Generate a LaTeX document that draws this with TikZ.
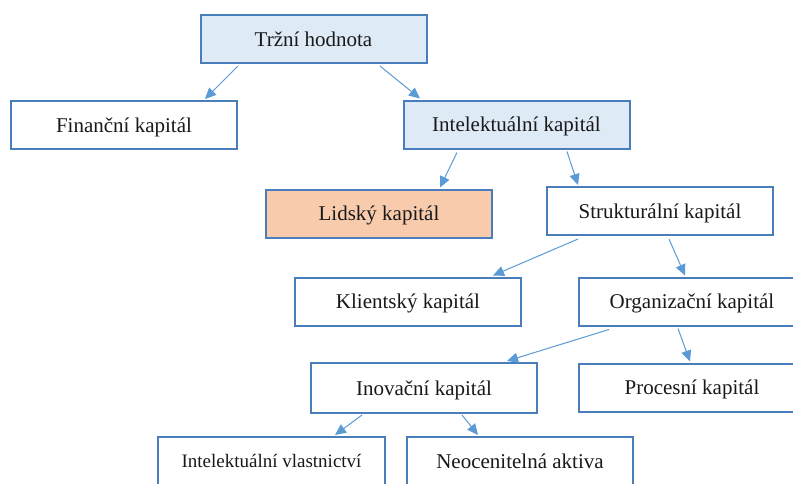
\documentclass[tikz,border=0pt]{standalone}
\usepackage{fontspec}
\setmainfont{Liberation Serif}
\usetikzlibrary{arrows.meta}
\definecolor{boxline}{HTML}{4A7EBB}
\definecolor{arrline}{HTML}{5B9BD5}
\definecolor{lightblue}{HTML}{DEEAF6}
\definecolor{peach}{HTML}{F8CBAD}
\tikzset{
  box/.style={draw=boxline, line width=2pt, fill=white, minimum width=226pt, minimum height=48pt, inner sep=0pt, text depth=0pt, font=\fontsize{21}{25}\selectfont, text=black!90},
  bluebox/.style={box, fill=lightblue},
  peachbox/.style={box, fill=peach},
  arr/.style={draw=arrline, line width=1pt, -{Triangle[length=11pt,width=10pt]}}
}
\begin{document}
\begin{tikzpicture}[x=1pt,y=-1pt]
\useasboundingbox (0,0) rectangle (793,483);
\clip (0,0) rectangle (793,483);
\fill[white] (0,0) rectangle (793,483);
\node[bluebox] (tr) at (313.5,39) {Tržní hodnota};
\node[box] (fin) at (124,125) {Finanční kapitál};
\node[bluebox] (int) at (516.5,124.5) {Intelektuální kapitál};
\node[peachbox] (lid) at (379,213.5) {Lidský kapitál};
\node[box] (str) at (660,211) {Strukturální kapitál};
\node[box] (kli) at (408,301.5) {Klientský kapitál};
\node[box] (org) at (692,301.5) {Organizační kapitál};
\node[box, minimum height=50pt] (ino) at (424,388) {Inovační kapitál};
\node[box] (pro) at (692,387.5) {Procesní kapitál};
\node[box, minimum width=227pt, font=\fontsize{19}{23}\selectfont] (iv) at (271.5,461) {Intelektuální vlastnictví};
\node[box] (neo) at (520,461) {Neocenitelná aktiva};
\draw[arr] ([xshift=-75.5pt,yshift=-2pt]tr.south) -- ([xshift=81pt,yshift=1pt]fin.north);
\draw[arr] ([xshift=66.5pt,yshift=-2pt]tr.south) -- ([xshift=-96.5pt,yshift=1pt]int.north);
\draw[arr] ([xshift=-59.5pt,yshift=-3pt]int.south) -- ([xshift=61pt,yshift=1pt]lid.north);
\draw[arr] ([xshift=50.5pt,yshift=-2pt]int.south) -- ([xshift=-82pt,yshift=1pt]str.north);
\draw[arr] ([xshift=-82pt,yshift=-3pt]str.south) -- ([xshift=85pt,yshift=1pt]kli.north);
\draw[arr] ([xshift=9pt,yshift=-3pt]str.south) -- ([xshift=-7pt,yshift=1pt]org.north);
\draw[arr] ([xshift=-83pt,yshift=-3pt]org.south) -- ([xshift=83pt,yshift=1pt]ino.north);
\draw[arr] ([xshift=-14pt,yshift=-2pt]org.south) -- ([xshift=-2pt,yshift=1pt]pro.north);
\draw[arr] ([xshift=-62pt,yshift=-1pt]ino.south) -- ([xshift=63.5pt,yshift=1pt]iv.north);
\draw[arr] ([xshift=38pt,yshift=-1pt]ino.south) -- ([xshift=-42pt,yshift=1pt]neo.north);
\end{tikzpicture}
\end{document}
